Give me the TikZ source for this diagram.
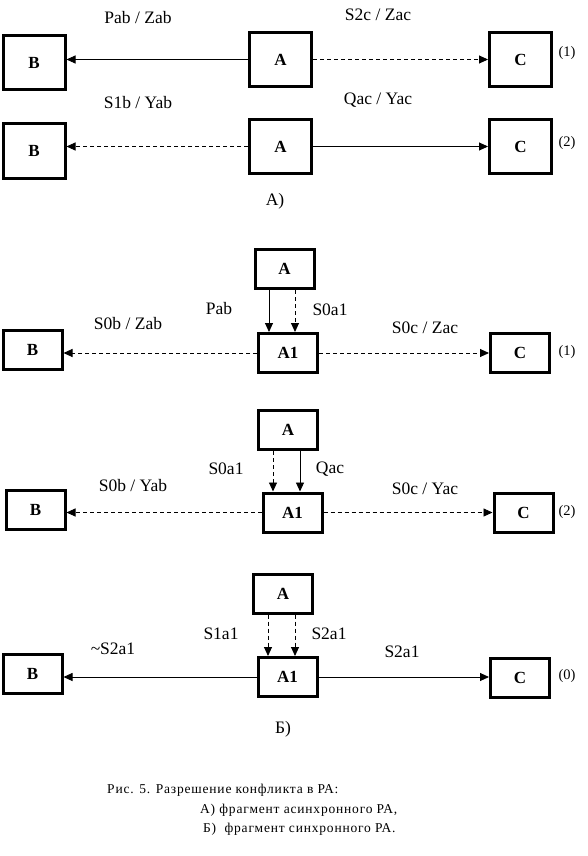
\documentclass[tikz,border=0pt]{standalone}
\usepackage{fontspec}
\setmainfont{Liberation Serif}
\usetikzlibrary{arrows.meta}

\begin{document}
\begin{tikzpicture}[
        x=1pt,y=-1pt,
        font=\fontsize{17.5}{20}\selectfont,
        BigBox/.style={
            draw,
            line width=3pt,
            minimum width=62pt,
            minimum height=54pt,
            inner sep=0pt,
            font=\fontsize{17}{20}\selectfont\bfseries
        },
        SmallBox/.style={
            BigBox,
            minimum width=59pt,
            minimum height=39pt
        },
        Sig/.style={-{Triangle[length=9pt,width=8pt]},line width=0.9pt},
        SigD/.style={Sig,dash pattern=on 4pt off 3pt},
        Num/.style={inner sep=0pt,font=\fontsize{14.5}{16}\selectfont},
        Cap/.style={inner sep=0pt,anchor=west,font=\fontsize{13.5}{15}\selectfont\addfontfeature{LetterSpace=6}}
    ]
    \useasboundingbox (0,0) rectangle (587,856);

    %A) fragment, row (1)
    \node[BigBox] (BA1) at (34,62.5) {B};
    \node[BigBox] (AA1) at (280.5,59.5) {A};
    \node[BigBox] (CA1) at (520.5,59.5) {C};
    \node[Num] (nA1) at (567,53) {(1)};
    \draw[Sig] (AA1) -- (BA1.east |- AA1);
    \draw[SigD] (AA1) -- (CA1.west |- AA1);
    \node (tPZab) at (138,18) {Pab / Zab};
    \node (tSZac) at (378,15) {S2c / Zac};

    %A) fragment, row (2)
    \node[BigBox] (BA2) at (34,151) {B};
    \node[BigBox] (AA2) at (280.5,146.5) {A};
    \node[BigBox] (CA2) at (520.5,146.5) {C};
    \node[Num] (nA2) at (567,143) {(2)};
    \draw[SigD] (AA2) -- (BA2.east |- AA2);
    \draw[Sig] (AA2) -- (CA2.west |- AA2);
    \node (tSYab) at (138,103) {S1b / Yab};
    \node (tQYac) at (378,100) {Qac / Yac};

    \node (tA) at (275,201) {А)};

    %B) fragment, row (1)
    \node[SmallBox] (AB1) at (284.5,269) {A};
    \node[SmallBox] (A1B1) at (288,353) {A1};
    \node[SmallBox] (BB1) at (32.5,350) {B};
    \node[SmallBox] (CB1) at (520,353) {C};
    \node[Num] (nB1) at (567,352) {(1)};
    \draw[Sig] ([xshift=-15.5pt]AB1.south) -- ([xshift=-15.5pt]AB1.south |- A1B1.north);
    \draw[SigD] ([xshift=10.5pt]AB1.south) -- ([xshift=10.5pt]AB1.south |- A1B1.north);
    \draw[SigD] (A1B1) -- (BB1.east |- A1B1);
    \draw[SigD] (A1B1) -- (CB1.west |- A1B1);
    \node (tPab) at (219,309) {Pab};
    \node (tS0a1) at (330,310) {S0a1};
    \node (tS0Zab) at (128,324) {S0b / Zab};
    \node (tS0Zac) at (425,328) {S0c / Zac};

    %B) fragment, row (2)
    \node[SmallBox] (AB2) at (288,430) {A};
    \node[SmallBox] (A1B2) at (292.5,512.5) {A1};
    \node[SmallBox] (BB2) at (35.5,510) {B};
    \node[SmallBox] (CB2) at (523.5,512.5) {C};
    \node[Num] (nB2) at (567,512) {(2)};
    \draw[SigD] ([xshift=-15pt]AB2.south) -- ([xshift=-15pt]AB2.south |- A1B2.north);
    \draw[Sig] ([xshift=12pt]AB2.south) -- ([xshift=12pt]AB2.south |- A1B2.north);
    \draw[SigD] (A1B2) -- (BB2.east |- A1B2);
    \draw[SigD] (A1B2) -- (CB2.west |- A1B2);
    \node (tS0a1b) at (226,469) {S0a1};
    \node (tQac) at (330,469) {Qac};
    \node (tS0Yab) at (133,486) {S0b / Yab};
    \node (tS0Yac) at (425,489) {S0c / Yac};

    %B) fragment, row (0)
    \node[SmallBox] (AB3) at (283,593.5) {A};
    \node[SmallBox] (A1B3) at (287.5,677) {A1};
    \node[SmallBox] (BB3) at (32.5,673.5) {B};
    \node[SmallBox] (CB3) at (520,678) {C};
    \node[Num] (nB3) at (567,676) {(0)};
    \draw[SigD] ([xshift=-15pt]AB3.south) -- ([xshift=-15pt]AB3.south |- A1B3.north);
    \draw[SigD] ([xshift=12pt]AB3.south) -- ([xshift=12pt]AB3.south |- A1B3.north);
    \draw[Sig] (A1B3) -- (BB3.east |- A1B3);
    \draw[Sig] (A1B3) -- (CB3.west |- A1B3);
    \node (tS1a1) at (221,634) {S1a1};
    \node (tS2a1) at (329,634) {S2a1};
    \node (tnS2a1) at (113,649) {\char`~S2a1};
    \node (tS2a1r) at (402,652) {S2a1};

    \node (tB) at (283,729) {Б)};

    %caption
    \node[Cap] (cap1) at (107,790) {Рис. 5. Разрешение конфликта в РА:};
    \node[Cap] (cap2) at (200,810) {А) фрагмент асинхронного РА,};
    \node[Cap] (cap3) at (203,829) {Б)\ \ фрагмент синхронного РА.};

\end{tikzpicture}
\end{document}
